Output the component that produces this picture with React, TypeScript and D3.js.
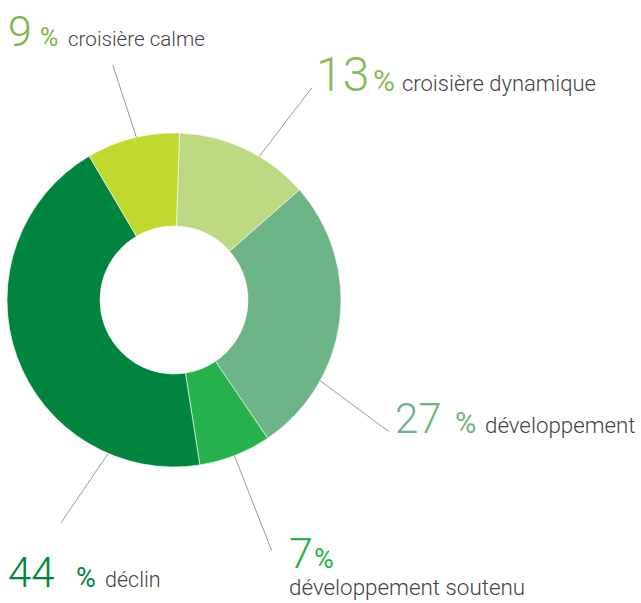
import React from 'react';
import * as d3 from 'd3';

// slices, clockwise from the top
const categories = ['croisière dynamique', 'développement', 'développement soutenu', 'déclin', 'croisière calme'];
const values = [13, 27, 7, 44, 9];
const sliceColors = ['#bcd981', '#6cb386', '#26b24b', '#00853e', '#c1d82f'];
const pctColors = ['#86bc55', '#6cb386', '#26b24b', '#00853e', '#7ab648'];

// label layout: [numX, baseline, numSize, pctX, pctSize, nameX, nameBaseline, nameSize]
const labelLayout: Array<[number, number, number, number, number, number, number, number]> = [
  [316, 91, 48, 373, 30, 402, 91, 22],
  [395, 433, 42, 455, 29, 485, 433, 22.3],
  [289, 568, 43, 314, 27, 289, 595, 22.4],
  [8, 587, 42, 76, 27, 105, 587, 21.5],
  [8, 46, 43, 40, 25, 68, 46, 20.6],
];
// leader lines: [startAngleDeg, endAngleDeg, endRadius]
const leaderLayout: Array<[number, number, number]> = [
  [30.7, 33, 253],
  [118.9, 121.5, 252],
  [158.8, 158.7, 269],
  [203.2, 206.9, 250],
  [347, 345.4, 243],
];

const width = 641;
const height = 603;
const cx = 174;
const cy = 300;
const outerR = 167;
const innerR = 74;

const App: React.FC = () => {
  const data = categories.map((name, i) => ({ name, value: values[i], i }));
  const start = (1.9 * Math.PI) / 180;
  const pie = d3.pie<{ name: string; value: number; i: number }>()
    .sort(null)
    .value(d => d.value)
    .startAngle(start)
    .endAngle(start + 2 * Math.PI);
  const arc = d3.arc<d3.PieArcDatum<{ name: string; value: number; i: number }>>()
    .innerRadius(innerR)
    .outerRadius(outerR);
  const arcs = pie(data);
  const pt = (deg: number, r: number) => {
    const a = (deg * Math.PI) / 180;
    return [cx + r * Math.sin(a), cy - r * Math.cos(a)];
  };
  const font = 'Roboto, "Open Sans", sans-serif';

  return (
    <svg width={width} height={height} style={{ position: 'absolute', left: 0, top: 0 }}>
      <g transform={`translate(${cx},${cy})`}>
        {arcs.map(d => (
          <path key={d.data.name} d={arc(d) || ''} fill={sliceColors[d.data.i]} stroke="#fff" strokeWidth={0.6} />
        ))}
      </g>
      {leaderLayout.map(([a0, a1, r1], i) => {
        const [x0, y0] = pt(a0, outerR);
        const [x1, y1] = pt(a1, r1);
        return <line key={i} x1={x0} y1={y0} x2={x1} y2={y1} stroke="#9a9a9a" strokeWidth={1} />;
      })}
      {labelLayout.map(([nx, nb, ns, px, ps, tx, tb, ts], i) => (
        <g key={categories[i]} fontFamily={font}>
          <text x={nx} y={nb} fontSize={ns} fontWeight={300} fill={pctColors[i]}>{values[i]}</text>
          <text x={px} y={nb} fontSize={ps} fontWeight={400} fill={pctColors[i]}>%</text>
          <text x={tx} y={tb} fontSize={ts} fontWeight={300} fill="#444">{categories[i]}</text>
        </g>
      ))}
    </svg>
  );
};

export default App;
